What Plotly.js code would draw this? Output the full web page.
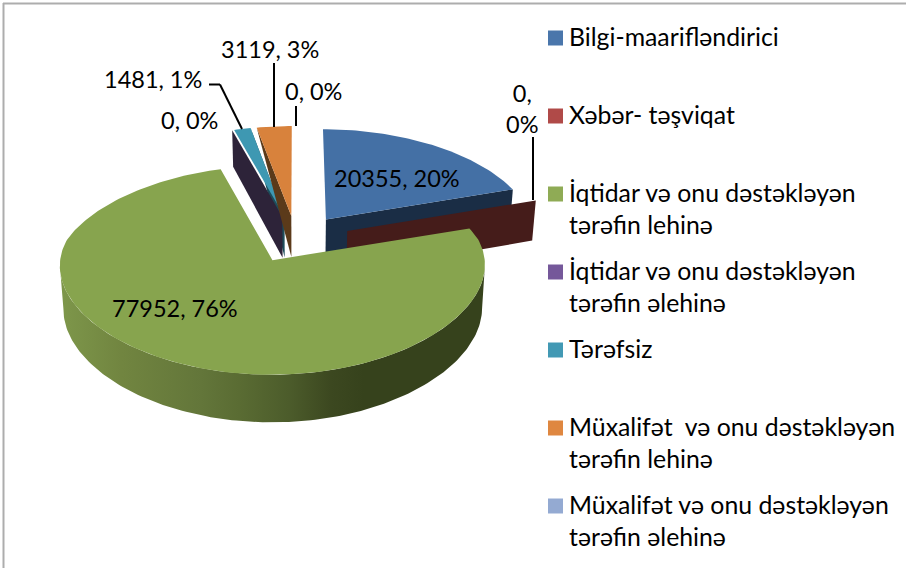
<!DOCTYPE html>
<html>
<head>
<meta charset="utf-8">
<script src="https://cdn.plot.ly/plotly-3.0.1.min.js"></script>
<style>html,body{margin:0;padding:0;background:#fff}#chart{width:906px;height:568px}svg text{font-variant-ligatures:none}</style>
</head>
<body>
<div id="chart"></div>
<script>
// ---- data
const categories = ["Bilgi-maarifləndirici","Xəbər- təşviqat","İqtidar və onu dəstəkləyən<br>tərəfin lehinə","İqtidar və onu dəstəkləyən<br>tərəfin əlehinə","Tərəfsiz","Müxalifət  və onu dəstəkləyən<br>tərəfin lehinə","Müxalifət və onu dəstəkləyən<br>tərəfin əlehinə"];
const values = [20355,0,77952,0,1481,3119,0];
const legendColors = ["#4a76ab","#b04a48","#8fab55","#75589a","#4299b4","#df8740","#94aad2"];
const topColors = ["#4470a5","#a84442","#87a44e","#6f5391","#3e98b2","#d8823c","#8fa6cf"];
const wallColors = ["#1a2d45","#451c1a","#36421c","#2d2339","#1d4d5a","#5b3a1a",null];
const pulls = [0.25,0.26,0.24,0.24,0.24,0.24,0.24];
// which cut face of each slice shows, and how much of its depth reaches the rim
const wallSide = ["end","end",null,"start","end","start",null];
const wallRim = [1,1,0,1,0,0,0];
// label position (centre in px) for each slice
const labelX = [397,522,175,189,153,270,313];
const labelY = [178,108,308,120,79,49,91];
const labelBreak = [false,true,false,false,false,false,false];
// ---- projection settings
const CX=296, CY=239, RX=210, AY=97, KX_FAR=0.11, KX_NEAR=0.05, KY_FAR=0.052, KY_NEAR=0.11, DEPTH=42, BOTTOM=0.985;

const total = values.reduce((a,b)=>a+b,0);
function proj(u,v,dep){
  const s=1/(1+(v>0?KX_FAR:KX_NEAR)*v), ky=v>0?KY_FAR:KY_NEAR, f=dep?BOTTOM:1;
  return [CX+RX*u*s*f, CY-AY*v/(1+ky*v)+(dep?DEPTH*(1-0.11*v)*dep:0)];
}
let cum=0;
const slices = values.map((v,i)=>{
  const a0=cum/total*2*Math.PI; cum+=v; const a1=cum/total*2*Math.PI; const m=(a0+a1)/2;
  return {a0,a1,ox:pulls[i]*Math.sin(m),oy:pulls[i]*Math.cos(m)};
});
const rim=(sl,a,dep)=>proj(sl.ox+Math.sin(a),sl.oy+Math.cos(a),dep);
const apex=(sl,dep)=>proj(sl.ox,sl.oy,dep);
function poly(pts,color,extra){
  return Object.assign({x:pts.map(p=>p[0]),y:pts.map(p=>p[1]),mode:'lines',fill:'toself',fillcolor:color,
    line:{width:0,color:color},hoverinfo:'skip',showlegend:false},extra||{});
}
function arc(sl,dep){
  const n=Math.max(6,Math.ceil((sl.a1-sl.a0)/0.02)),pts=[];
  for(let k=0;k<=n;k++)pts.push(rim(sl,sl.a0+(sl.a1-sl.a0)*k/n,dep));
  return pts;
}
function topFace(i){return poly([apex(slices[i],0)].concat(arc(slices[i],0)),topColors[i]);}
function wallFace(i){
  const sl=slices[i],a=wallSide[i]==='start'?sl.a0:sl.a1;
  return poly([apex(sl,0),rim(sl,a,0),rim(sl,a,wallRim[i]),apex(sl,1)],wallColors[i]);
}
// the outer wall runs between the arc's right and left extremes, top rim then bottom rim
function visibleArc(pts){
  let lo=0,hi=0;
  pts.forEach((p,k)=>{if(p[0]>pts[hi][0])hi=k;if(p[0]<pts[lo][0])lo=k;});
  return pts.slice(hi,lo+1);
}
function greenWall(i){
  const pts=visibleArc(arc(slices[i],0)).concat(visibleArc(arc(slices[i],1)).reverse());
  return poly(pts,wallColors[i],{fillgradient:{type:'horizontal',start:63,stop:481,colorscale:[
    [0,'#7d964a'],[0.14,'#718540'],[0.33,'#63763a'],[0.42,'#5a6c33'],[0.54,'#4c5c2b'],[0.64,'#3c4820'],[0.72,'#36421c'],[1,'#36421c']]}});
}
const traces=[wallFace(0),topFace(0),wallFace(1),wallFace(4),wallFace(3),topFace(4),wallFace(5),topFace(5),greenWall(2),topFace(2)];

// legend swatches
const LEG_TOP=38, LEG_STEP=78, LEG_SWATCH=555.5, LEG_TEXT=570;
traces.push({x:categories.map(()=>LEG_SWATCH),y:categories.map((c,i)=>LEG_TOP+i*LEG_STEP),mode:'markers',
  marker:{symbol:'square',size:15,color:legendColors,line:{width:0}},hoverinfo:'skip',showlegend:false});

const FONT='Lato, Carlito, "Open Sans", sans-serif', LABEL_SIZE=23.5, LEGEND_SIZE=24.8;
const annotations=[];
values.forEach((v,i)=>{
  const pct=Math.round(v/total*100)+'%';
  annotations.push({x:labelX[i],y:labelY[i],xref:'x',yref:'y',text:v+','+(labelBreak[i]?'<br>':' ')+pct,showarrow:false,
    font:{family:FONT,size:LABEL_SIZE,color:'#000'},xanchor:'center',yanchor:'middle'});
});
categories.forEach((c,i)=>{
  annotations.push({x:LEG_TEXT,y:LEG_TOP+i*LEG_STEP-17,xref:'x',yref:'y',text:c,showarrow:false,align:'left',
    font:{family:FONT,size:LEGEND_SIZE,color:'#000'},xanchor:'left',yanchor:'top',xshift:-2,borderpad:0});
});
const seg=(x0,y0,x1,y1,c,w)=>({type:'line',xref:'x',yref:'y',x0,y0,x1,y1,line:{color:c,width:w}});
const shapes=[
  seg(3.5,3,3.5,568,'#adadad',2), seg(3,3.5,906,3.5,'#adadad',2),
  seg(209,84.5,220,84.5,'#000',2), seg(220,84.5,242,129,'#000',2),
  seg(274,63,274,127,'#000',2), seg(296,106,296,126,'#000',2), seg(533,137,533,200,'#000',2)
];
Plotly.newPlot('chart',traces,{
  width:906,height:568,margin:{l:0,r:0,t:0,b:0},paper_bgcolor:'#fff',plot_bgcolor:'#fff',showlegend:false,
  xaxis:{range:[0,906],visible:false,fixedrange:true},
  yaxis:{range:[568,0],visible:false,fixedrange:true},
  annotations,shapes
},{displayModeBar:false,staticPlot:true});
</script>
</body>
</html>
